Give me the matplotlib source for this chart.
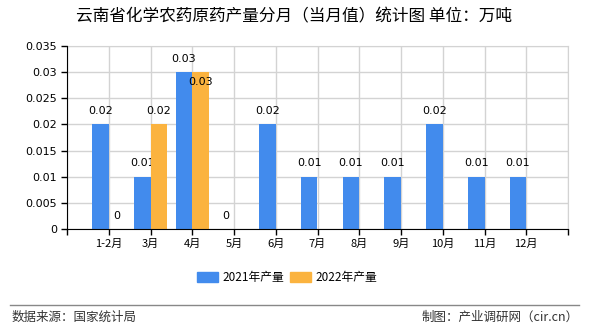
"""
云南省化学农药原药产量分月（当月值）柱状图。
"""

import matplotlib.pyplot as plt
import numpy as np

plt.rcParams['font.family'] = ['Noto Sans CJK SC', 'DejaVu Sans']

months = ["1-2月", "3月", "4月", "5月", "6月", "7月", "8月", "9月", "10月", "11月", "12月"]
prod_2021 = [0.02, 0.01, 0.03, 0, 0.02, 0.01, 0.01, 0.01, 0.02, 0.01, 0.01]
prod_2022 = [0, 0.02, 0.03, None, None, None, None, None, None, None, None]
y_ticks = [0, 0.005, 0.01, 0.015, 0.02, 0.025, 0.03, 0.035]
y_tick_labels = ["0", "0.005", "0.01", "0.015", "0.02", "0.025", "0.03", "0.035"]

BLUE = "#428bed"
ORANGE = "#fbb33f"
W = 0.4

fig = plt.figure(figsize=(5.9, 3.3), dpi=100)
ax = fig.add_axes([67 / 590, 101 / 330, 501 / 590, 183 / 330])

x = np.arange(1, len(months) + 1)

for i, v in enumerate(prod_2021):
    if v is None:
        continue
    ax.bar(x[i] - W / 2, v, W, color=BLUE, zorder=3)
    ax.annotate(f"{v:g}", (x[i] - W / 2, v), xytext=(0, 6), textcoords="offset points",
                ha="center", va="bottom", fontsize=8, family="DejaVu Sans")

for i, v in enumerate(prod_2022):
    if v is None:
        continue
    ax.bar(x[i] + W / 2, v, W, color=ORANGE, zorder=3)
    # 与 2021 标签重叠时下移
    dy = -11 if prod_2021[i] == v and v > 0 else 6
    ax.annotate(f"{v:g}", (x[i] + W / 2, v), xytext=(0, dy), textcoords="offset points",
                ha="center", va="bottom", fontsize=8, family="DejaVu Sans")

ax.set_xlim(0, 12)
ax.set_ylim(0, 0.035)
ax.set_xticks(np.arange(0, 13))
ax.set_xticklabels([""] + months + [""], fontsize=8)
ax.set_yticks(y_ticks)
ax.set_yticklabels(y_tick_labels, fontsize=8, family="DejaVu Sans")
ax.tick_params(axis="both", length=4, width=1, color="black", pad=3)
ax.grid(True, color="#d3d3d3", lw=1, zorder=0)
for s in ["top", "right"]:
    ax.spines[s].set_color("#d3d3d3")
for s in ["left", "bottom"]:
    ax.spines[s].set_color("black")
    ax.spines[s].set_zorder(4)

fig.text(294 / 590, 1 - 17 / 330, "云南省化学农药原药产量分月（当月值）统计图 单位：万吨",
         ha="center", va="center", fontsize=12)

# 图例
lx, ly = 197 / 590, 1 - 277 / 330
fig.patches.append(plt.Rectangle((lx, ly - 5 / 330), 21 / 590, 10 / 330,
                                 transform=fig.transFigure, color=BLUE))
fig.text(lx + 25 / 590, ly, "2021年产量", ha="left", va="center", fontsize=8.5)
lx2 = 290 / 590
fig.patches.append(plt.Rectangle((lx2, ly - 5 / 330), 21 / 590, 10 / 330,
                                 transform=fig.transFigure, color=ORANGE))
fig.text(lx2 + 25 / 590, ly, "2022年产量", ha="left", va="center", fontsize=8.5)

# 底部分隔线与来源
fig.add_artist(plt.Line2D([10 / 590, 579 / 590], [1 - 305 / 330, 1 - 305 / 330],
                          transform=fig.transFigure, color="#888888", lw=1))
fig.text(12 / 590, 1 - 317 / 330, "数据来源：国家统计局", ha="left", va="center",
         fontsize=9, color="#333333")
fig.text(579 / 590, 1 - 317 / 330, "制图：产业调研网（cir.cn）", ha="right", va="center",
         fontsize=9, color="#333333")

fig.savefig("out.png", dpi=100)
